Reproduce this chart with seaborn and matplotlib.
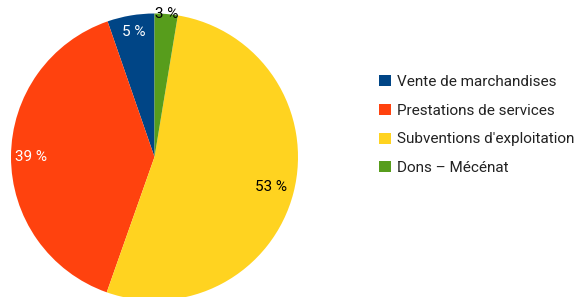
import matplotlib.pyplot as plt
import seaborn as sns
import numpy as np

categories = ['Vente de marchandises', 'Prestations de services',
              "Subventions d'exploitation", 'Dons – Mécénat']
shares = [5.3, 39.3, 52.8, 2.6]
colors = ['#004586', '#ff420e', '#ffd320', '#579d1c']
label_colors = ['white', 'white', 'black', 'black']
label_dist = [0.88, 0.86, 0.84, 1.0]

sns.set_theme(style='white')
plt.rcParams['font.family'] = ['Roboto', 'DejaVu Sans']
plt.rcParams['text.color'] = '#222222'

fig = plt.figure(figsize=(5.79, 2.97), dpi=100)
ax = fig.add_axes([11 / 579, -3.5 / 297, 287 / 579, 287 / 297])

wedges, texts, autotexts = ax.pie(
    shares,
    colors=sns.color_palette(colors),
    startangle=90,
    counterclock=True,
    autopct='%.0f %%',
    pctdistance=0.85,
    textprops={'fontsize': 11},
    wedgeprops={'linewidth': 0},
)
ax.set_xlim(-1, 1)
ax.set_ylim(-1, 1)

# move each percent label along its wedge's middle angle
for w, t, c, d in zip(wedges, autotexts, label_colors, label_dist):
    ang = np.deg2rad((w.theta1 + w.theta2) / 2)
    t.set_position((d * np.cos(ang), d * np.sin(ang)))
    t.set_color(c)

fig.legend(wedges, categories, loc='upper left', bbox_to_anchor=(373 / 579, 1 - 69 / 297),
           frameon=False, fontsize=11, handlelength=0.75, handleheight=0.75,
           handletextpad=0.4, labelspacing=0.96, borderaxespad=0)

fig.savefig('out.png', dpi=100)
